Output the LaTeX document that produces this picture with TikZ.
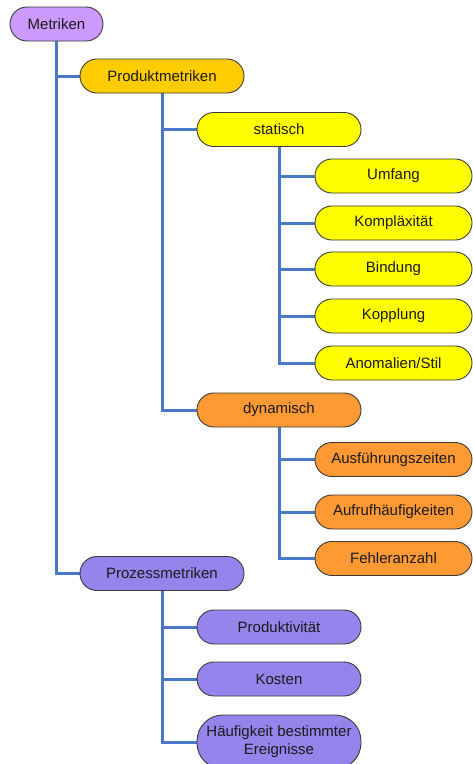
\documentclass[tikz,border=0pt]{standalone}
\usepackage{fontspec}
\setmainfont{Liberation Sans}
\usetikzlibrary{backgrounds}
\definecolor{cMet}{HTML}{CC99FF}
\definecolor{cProd}{HTML}{FFCC00}
\definecolor{cStat}{HTML}{FFFF00}
\definecolor{cDyn}{HTML}{FF9933}
\definecolor{cProz}{HTML}{9683EC}
\definecolor{cLine}{HTML}{4A78C8}
\definecolor{cBord}{HTML}{3A3A3A}
\definecolor{cText}{HTML}{1A1A1A}
\tikzset{
  pill/.style={draw=cBord, line width=0.9pt, rounded corners=16.9pt, minimum height=34pt,
    inner sep=0pt, text=cText, font=\fontsize{15}{18}\selectfont, align=center},
  wide/.style={pill, minimum width=164pt},
  leaf/.style={pill, minimum width=157pt},
  conn/.style={draw=cLine, line width=3pt},
}
\begin{document}
\begin{tikzpicture}[x=1pt,y=-1pt]
\useasboundingbox (0,0) rectangle (472,764);
\node[pill, fill=cMet, minimum width=93pt] (met) at (56.5,24) {Metriken};
\node[wide, fill=cProd] (prod) at (162,76) {Produktmetriken};
\node[wide, fill=cStat] (stat) at (279,129.5) {statisch};
\node[leaf, fill=cStat] (umf) at (393.5,176) {Umfang};
\node[leaf, fill=cStat] (kom) at (393.5,223) {Kompläxität};
\node[leaf, fill=cStat] (bin) at (393.5,269) {Bindung};
\node[leaf, fill=cStat] (kop) at (393.5,316) {Kopplung};
\node[leaf, fill=cStat] (ano) at (393.5,363) {Anomalien/Stil};
\node[wide, fill=cDyn] (dyn) at (279,410) {dynamisch};
\node[leaf, fill=cDyn] (aus) at (393.5,459.5) {Ausführungszeiten};
\node[leaf, fill=cDyn] (auf) at (393.5,512) {Aufrufhäufigkeiten};
\node[leaf, fill=cDyn] (feh) at (393.5,558.5) {Fehleranzahl};
\node[wide, fill=cProz] (proz) at (162,573.5) {Prozessmetriken};
\node[wide, fill=cProz] (pdk) at (279,627) {Produktivität};
\node[wide, fill=cProz] (kos) at (279,679) {Kosten};
\node[wide, fill=cProz, minimum height=54pt, rounded corners=26pt] (hae) at (279,742) {Häufigkeit bestimmter\\Ereignisse};
\begin{scope}[on background layer]
\foreach \p/\c in {met/prod, met/proz, prod/stat, prod/dyn, stat/umf, stat/kom, stat/bin, stat/kop, stat/ano, dyn/aus, dyn/auf, dyn/feh, proz/pdk, proz/kos, proz/hae}
  \draw[conn] (\p.south) |- (\c.west);
\end{scope}
\end{tikzpicture}
\end{document}
